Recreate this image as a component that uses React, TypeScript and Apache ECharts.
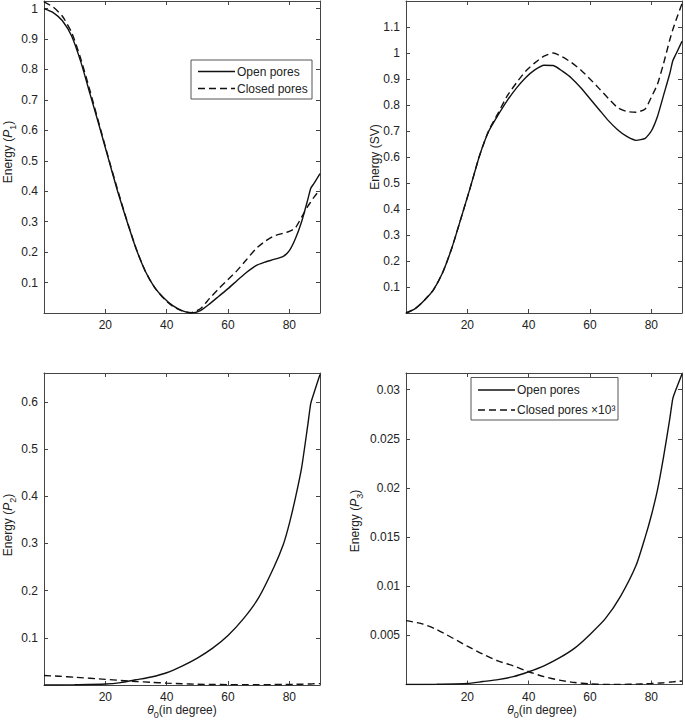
import React, { useEffect, useRef } from "react";
import * as echarts from "echarts";

// ---- data ----
const thetaTop = [0, 3, 6, 9, 12, 15, 18, 21, 24, 27, 30, 33, 36, 39, 42, 45, 48, 51, 54, 57, 60, 63, 66, 69, 72, 75, 78, 80, 82, 84, 86, 87, 88, 90];
const p1Open = [1.0, 0.987, 0.96, 0.91, 0.825, 0.72, 0.615, 0.507, 0.4, 0.303, 0.212, 0.138, 0.085, 0.05, 0.024, 0.008, 0.0, 0.008, 0.03, 0.055, 0.08, 0.107, 0.133, 0.155, 0.167, 0.176, 0.186, 0.205, 0.245, 0.3, 0.372, 0.41, 0.425, 0.458];
const p1Closed = [1.022, 1.005, 0.975, 0.922, 0.835, 0.73, 0.62, 0.51, 0.405, 0.305, 0.213, 0.138, 0.085, 0.048, 0.022, 0.007, 0.001, 0.014, 0.048, 0.08, 0.11, 0.14, 0.175, 0.21, 0.235, 0.253, 0.262, 0.268, 0.28, 0.315, 0.35, 0.365, 0.38, 0.405];
const svOpen = [0.0, 0.017, 0.049, 0.09, 0.157, 0.252, 0.367, 0.484, 0.606, 0.7, 0.761, 0.817, 0.865, 0.905, 0.935, 0.953, 0.952, 0.93, 0.903, 0.866, 0.824, 0.782, 0.74, 0.705, 0.679, 0.664, 0.672, 0.7, 0.756, 0.838, 0.92, 0.97, 0.995, 1.045];
const svClosed = [0.0, 0.017, 0.049, 0.09, 0.157, 0.252, 0.367, 0.484, 0.606, 0.702, 0.768, 0.835, 0.885, 0.93, 0.962, 0.988, 1.0, 0.985, 0.963, 0.935, 0.9, 0.863, 0.825, 0.79, 0.775, 0.772, 0.785, 0.83, 0.88, 0.96, 1.05, 1.09, 1.125, 1.19];

const thetaBottom = [0, 5, 10, 20, 25, 30, 35, 40, 45, 50, 55, 60, 65, 70, 75, 78, 80, 82, 84, 86, 87, 88, 90];
const p2Open = [0, 0.0001, 0.0005, 0.002, 0.005, 0.011, 0.017, 0.026, 0.04, 0.057, 0.078, 0.105, 0.14, 0.185, 0.25, 0.297, 0.342, 0.397, 0.46, 0.55, 0.597, 0.618, 0.658];
const p2Closed = [0.02, 0.0185, 0.0165, 0.012, 0.0097, 0.0075, 0.0057, 0.004, 0.0027, 0.0017, 0.0011, 0.0008, 0.0007, 0.0007, 0.0009, 0.0011, 0.0012, 0.0014, 0.0017, 0.002, 0.0022, 0.0025, 0.003];
const p3Open = [0, 0, 0.00002, 0.0001, 0.0003, 0.0005, 0.0008, 0.0013, 0.0019, 0.0027, 0.0037, 0.0051, 0.0067, 0.009, 0.0121, 0.015, 0.0172, 0.0198, 0.0232, 0.027, 0.0291, 0.03, 0.0316];
const p3Closed = [0.0065, 0.0062, 0.0056, 0.0039, 0.0031, 0.0024, 0.0019, 0.0013, 0.0008, 0.00045, 0.0002, 0.00006, 0.00001, 0.00001, 0.00004, 0.00007, 0.0001, 0.00014, 0.00018, 0.00024, 0.00027, 0.0003, 0.00035];

const xTicks = { min: 0, max: 90, interval: 20 };
const yRanges = [
  { max: 1.025, interval: 0.1 },
  { max: 1.2, interval: 0.1 },
  { max: 0.661, interval: 0.1 },
  { max: 0.0317, interval: 0.005 },
];

const FONT = "'Liberation Sans', Arial, Helvetica, sans-serif";
const AXIS_COLOR = "#444";
const TEXT_COLOR = "#222";

const grids = [
  { left: 44, top: 1, width: 276, height: 312 },
  { left: 406, top: 1, width: 276, height: 312 },
  { left: 44, top: 373, width: 276, height: 312 },
  { left: 406, top: 373, width: 276, height: 311.5 },
];

function fmt(v: number) {
  if (Math.abs(v) < 1e-12) return "";
  return String(parseFloat(v.toFixed(5)));
}

function pairs(xs: number[], ys: number[]) {
  return xs.map((x, i) => [x, ys[i]]);
}

export default function App() {
  const ref = useRef<HTMLDivElement>(null);
  useEffect(() => {
    document.body.style.margin = "0";
    if (!ref.current) return;
    const chart = echarts.init(ref.current, undefined, { renderer: "svg" });

    const xAxis: any[] = [];
    const yAxis: any[] = [];
    grids.forEach((_, gi) => {
      const common = {
        type: "value",
        gridIndex: gi,
        axisLine: { show: true, onZero: false, lineStyle: { color: AXIS_COLOR, width: 1 } },
        axisTick: { show: true, inside: true, length: 4, lineStyle: { color: AXIS_COLOR, width: 1 } },
        splitLine: { show: false },
      };
      xAxis.push({
        ...common,
        ...xTicks,
        position: "bottom",
        axisLabel: { margin: 6, fontFamily: FONT, fontSize: 12, color: TEXT_COLOR, formatter: fmt, showMaxLabel: false, showMinLabel: false },
      });
      xAxis.push({
        ...common,
        ...xTicks,
        position: "top",
        axisLabel: { show: false },
      });
      yAxis.push({
        ...common,
        min: 0,
        ...yRanges[gi],
        position: "left",
        axisLabel: { margin: 6, fontFamily: FONT, fontSize: 12, color: TEXT_COLOR, formatter: fmt, showMaxLabel: false, showMinLabel: false },
      });
      yAxis.push({
        ...common,
        min: 0,
        ...yRanges[gi],
        position: "right",
        axisLabel: { show: false },
      });
    });

    const line = (gi: number, name: string, xs: number[], ys: number[], dashed: boolean) => ({
      type: "line",
      name,
      xAxisIndex: gi * 2,
      yAxisIndex: gi * 2,
      data: pairs(xs, ys),
      showSymbol: false,
      symbol: "none",
      smooth: 0.2,
      lineStyle: { color: "#111", width: 1.4, type: dashed ? [7, 4] : "solid" },
    });

    const series = [
      line(0, "Open pores", thetaTop, p1Open, false),
      line(0, "Closed pores", thetaTop, p1Closed, true),
      line(1, "Open pores", thetaTop, svOpen, false),
      line(1, "Closed pores", thetaTop, svClosed, true),
      line(2, "Open pores", thetaBottom, p2Open, false),
      line(2, "Closed pores", thetaBottom, p2Closed, true),
      line(3, "Open pores", thetaBottom, p3Open, false),
      line(3, "Closed pores ×10³", thetaBottom, p3Closed, true),
    ];

    const rich = {
      n: { fontFamily: FONT, fontSize: 12, fill: TEXT_COLOR, color: TEXT_COLOR, lineHeight: 18, verticalAlign: "middle" },
      i: { fontFamily: FONT, fontSize: 12, fontStyle: "italic", fill: TEXT_COLOR, color: TEXT_COLOR, lineHeight: 18, verticalAlign: "middle" },
      sub: { fontFamily: FONT, fontSize: 9, fill: TEXT_COLOR, color: TEXT_COLOR, lineHeight: 18, verticalAlign: "bottom" },
    };

    const yTitle = (x: number, y: number, text: string) => ({
      type: "text",
      x,
      y,
      rotation: Math.PI / 2,
      style: { text, rich, align: "center", verticalAlign: "middle", textAlign: "center", textVerticalAlign: "middle" },
    });
    const xTitle = (x: number, y: number) => ({
      type: "text",
      x,
      y,
      style: { text: "{i|θ}{sub|0}{n|(in degree)}", rich, align: "center", verticalAlign: "middle", textAlign: "center", textVerticalAlign: "middle" },
    });

    const legend = (x: number, y: number, w: number, h: number, labels: string[], rowYs: number[]) => ({
      type: "group",
      children: [
        { type: "rect", shape: { x, y, width: w, height: h }, style: { fill: "#fff", stroke: "#555", lineWidth: 1 } },
        ...labels.flatMap((lab, k) => [
          {
            type: "line",
            shape: { x1: x + 7, y1: rowYs[k], x2: x + 44, y2: rowYs[k] },
            style: { stroke: "#111", lineWidth: 1.4, lineDash: k === 1 ? [7, 4] : null },
          },
          {
            type: "text",
            x: x + 46,
            y: rowYs[k],
            style: { text: lab, fontFamily: FONT, fontSize: 12, fill: TEXT_COLOR, align: "left", verticalAlign: "middle", textAlign: "left", textVerticalAlign: "middle" },
          },
        ]),
      ],
    });

    chart.setOption({
      animation: false,
      backgroundColor: "#fff",
      grid: grids.map((g) => ({ ...g, containLabel: false })),
      xAxis,
      yAxis,
      series,
      graphic: [
        yTitle(8, 152, "{n|Energy (}{i|P}{sub|1}{n|)}"),
        yTitle(375, 157, "{n|Energy (SV)}"),
        yTitle(8, 525, "{n|Energy (}{i|P}{sub|2}{n|)}"),
        yTitle(355, 521, "{n|Energy (}{i|P}{sub|3}{n|)}"),
        xTitle(182, 710),
        xTitle(542, 710),
        legend(191, 60, 121, 39, ["Open pores", "Closed pores"], [71.5, 88.5]),
        legend(471, 377.5, 147, 42.5, ["Open pores", "Closed pores ×10³"], [390, 410]),
      ],
    });
    return () => chart.dispose();
  }, []);
  return <div ref={ref} style={{ width: 685, height: 722 }} />;
}
